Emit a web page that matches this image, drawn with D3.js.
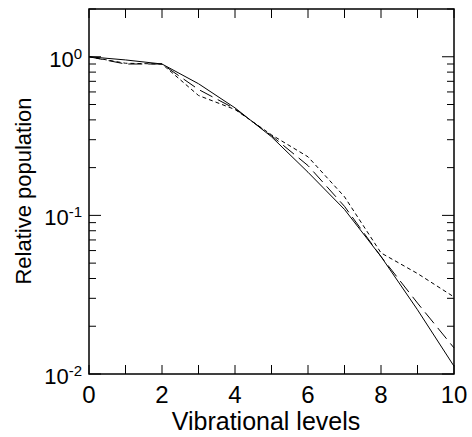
<!DOCTYPE html>
<html>
<head>
<meta charset="utf-8">
<script src="https://cdn.jsdelivr.net/npm/d3@7"></script>
<style>
  body { margin: 0; background: #fff; }
  text { font-family: "Liberation Sans", Arial, sans-serif; fill: #000; }
</style>
</head>
<body>
<svg id="chart" width="472" height="437"></svg>
<script>
const levels = [0, 1, 2, 3, 4, 5, 6, 7, 8, 9, 10];
const solidSeries = [1.0, 0.955, 0.90, 0.676, 0.476, 0.313, 0.187, 0.109, 0.055, 0.0254, 0.0112];
const longDashSeries = [1.0, 0.90, 0.90, 0.622, 0.47, 0.318, 0.206, 0.114, 0.055, 0.028, 0.0146];
const shortDashSeries = [1.0, 0.91, 0.90, 0.570, 0.465, 0.322, 0.234, 0.131, 0.058, 0.043, 0.0306];
const xTickLabels = [0, 2, 4, 6, 8, 10];
const yTickExponents = [0, -1, -2];

(function () {
const svg = d3.select("#chart");
const pL = 89, pR = 454, pT = 9, pB = 374;
const x = d3.scaleLinear().domain([0, 10]).range([pL, pR]);
const y = d3.scaleLog().domain([0.01, 2]).range([pB, pT]);

const g = svg.append("g");
g.append("rect").attr("x", pL).attr("y", pT).attr("width", pR - pL).attr("height", pB - pT)
  .attr("fill", "none").attr("stroke", "#000").attr("stroke-width", 1.5);

levels.forEach(v => {
  g.append("line").attr("x1", x(v)).attr("x2", x(v)).attr("y1", pB).attr("y2", pB - 9).attr("stroke", "#000");
  g.append("line").attr("x1", x(v)).attr("x2", x(v)).attr("y1", pT).attr("y2", pT + 9).attr("stroke", "#000");
});
xTickLabels.forEach(v => {
  g.append("text").attr("x", x(v)).attr("y", 403).attr("text-anchor", "middle")
    .attr("font-size", 24).text(v);
});

const yTicks = [];
for (let e = -2; e <= 0; e++) {
  for (let m = 1; m <= 9; m++) {
    const val = m * Math.pow(10, e);
    if (val <= 2 && val >= 0.01) yTicks.push({ val, major: m === 1 });
  }
}
yTicks.forEach(t => {
  const len = t.major ? 12 : 7;
  g.append("line").attr("x1", pL).attr("x2", pL + len).attr("y1", y(t.val)).attr("y2", y(t.val)).attr("stroke", "#000");
  g.append("line").attr("x1", pR).attr("x2", pR - len).attr("y1", y(t.val)).attr("y2", y(t.val)).attr("stroke", "#000");
});
yTickExponents.forEach(e => {
  const t = g.append("text").attr("x", 82).attr("y", y(Math.pow(10, e)) + 10).attr("text-anchor", "end").attr("font-size", 22);
  t.append("tspan").text("10");
  t.append("tspan").attr("font-size", 15).attr("dy", -8).text(e);
});

const line = d3.line().x((d, i) => x(levels[i])).y(d => y(d));
svg.append("path").attr("d", line(solidSeries)).attr("fill", "none").attr("stroke", "#000").attr("stroke-width", 1);
svg.append("path").attr("d", line(longDashSeries)).attr("fill", "none").attr("stroke", "#000").attr("stroke-width", 1)
  .attr("stroke-dasharray", "14,6");
svg.append("path").attr("d", line(shortDashSeries)).attr("fill", "none").attr("stroke", "#000").attr("stroke-width", 1)
  .attr("stroke-dasharray", "4,3");

svg.append("text").attr("x", 266).attr("y", 430).attr("text-anchor", "middle")
  .attr("font-size", 25).text("Vibrational levels");
svg.append("text").attr("transform", `translate(31,191) rotate(-90)`).attr("text-anchor", "middle")
  .attr("font-size", 22).text("Relative population");
})();
</script>
</body>
</html>
